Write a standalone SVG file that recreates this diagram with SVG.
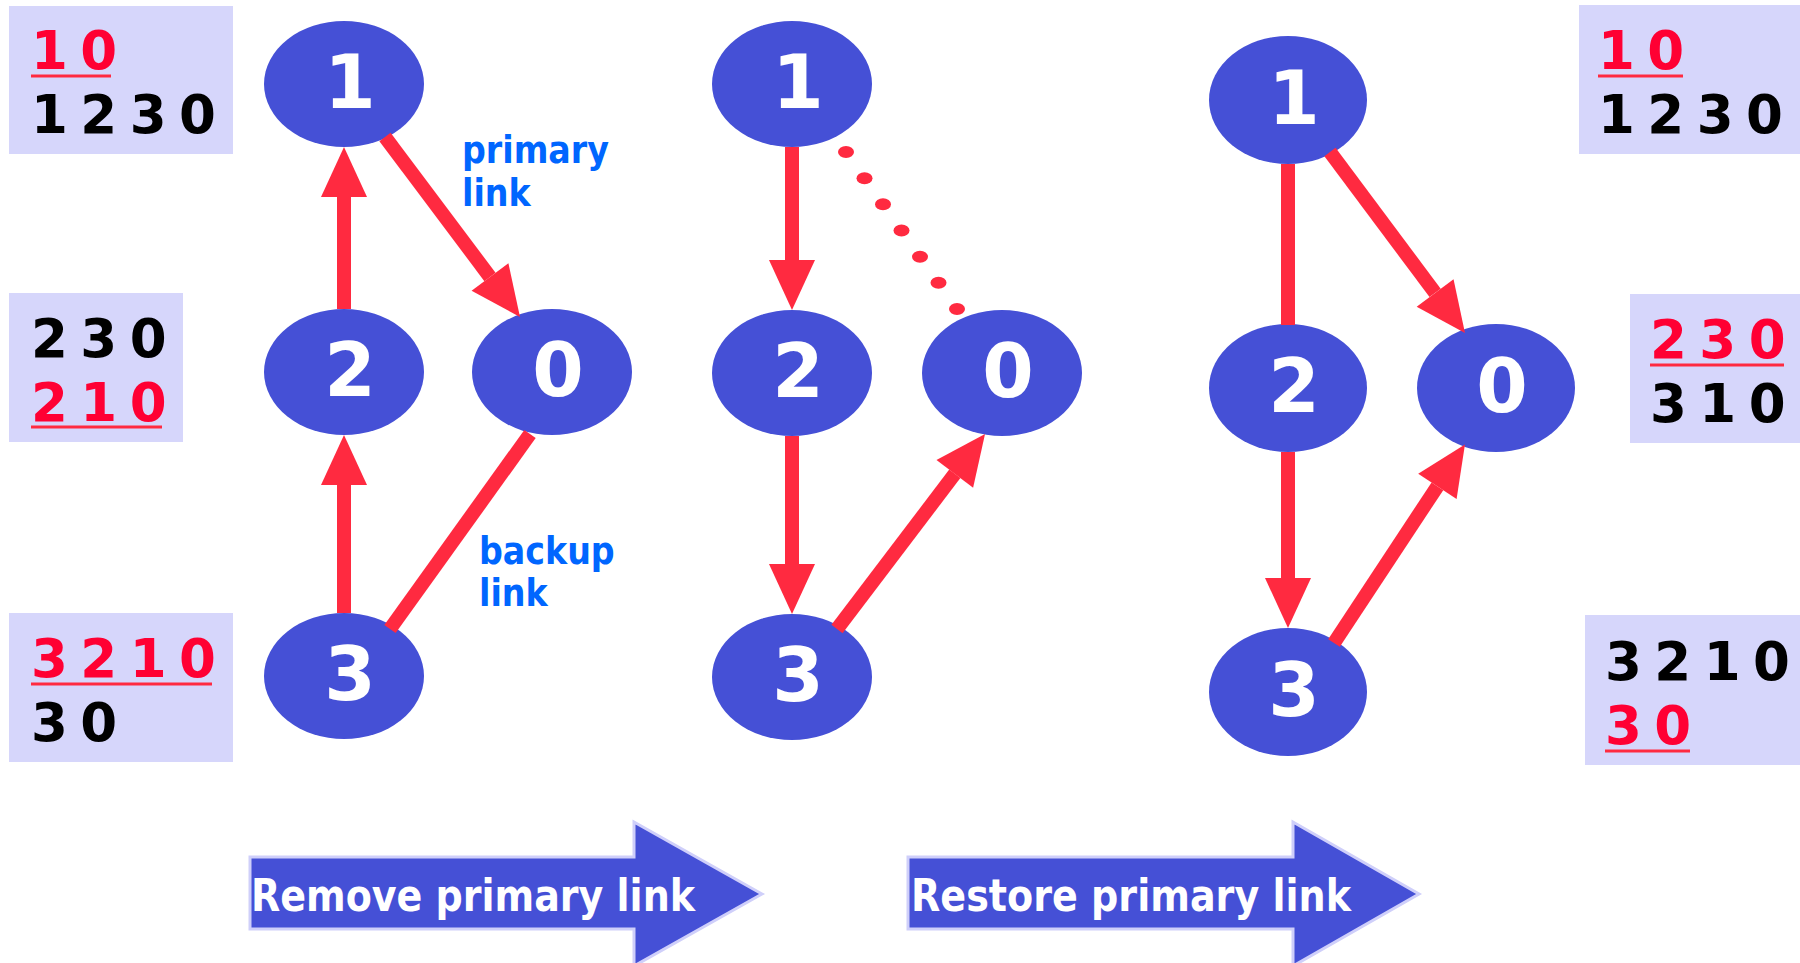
<svg xmlns="http://www.w3.org/2000/svg" width="1800" height="963" viewBox="0 0 1800 963">
<defs>
<style>
.box{fill:#d6d6fb}
.d{font-family:"DejaVu Sans",sans-serif;font-weight:bold;font-size:53px;letter-spacing:-3px}
.blk{fill:#000}
.red{fill:#ff0033}
.ul{stroke:#ff2a40;stroke-width:3}
.node ellipse{fill:#4550d6}
.node text{font-family:"DejaVu Sans",sans-serif;font-weight:bold;font-size:74px;fill:#fff;text-anchor:middle}
.lk{stroke:#ff2a40;stroke-width:14;fill:none}
.dot{fill:#ff2a40}
.lbl{font-family:"DejaVu Sans Condensed","DejaVu Sans",sans-serif;font-weight:bold;font-stretch:condensed;font-size:37px;fill:#0066ff}
.big{fill:#4550d6;stroke:#cfcffa;stroke-width:3}
.bt{font-family:"DejaVu Sans Condensed","DejaVu Sans",sans-serif;font-weight:bold;font-stretch:condensed;font-size:45px;fill:#fff}
</style>
<marker id="ah" markerUnits="userSpaceOnUse" markerWidth="50" markerHeight="46" refX="0" refY="23" orient="auto" overflow="visible">
<path d="M0,0 L50,23 L0,46 z" fill="#ff2a40"/>
</marker>
</defs>
<rect width="1800" height="963" fill="#fff"/>

<g id="tables">
<rect class="box" x="9" y="6" width="224" height="148"/>
<text class="d red" x="31" y="69">1 0</text>
<line class="ul" x1="31" y1="76" x2="111" y2="76"/>
<text class="d blk" x="31" y="133">1 2 3 0</text>

<rect class="box" x="9" y="293" width="174" height="149"/>
<text class="d blk" x="31" y="357">2 3 0</text>
<text class="d red" x="31" y="421">2 1 0</text>
<line class="ul" x1="31" y1="427" x2="162" y2="427"/>

<rect class="box" x="9" y="613" width="224" height="149"/>
<text class="d red" x="31" y="677">3 2 1 0</text>
<line class="ul" x1="31" y1="684" x2="212" y2="684"/>
<text class="d blk" x="31" y="741">3 0</text>

<rect class="box" x="1579" y="5" width="221" height="149"/>
<text class="d red" x="1598" y="69">1 0</text>
<line class="ul" x1="1598" y1="76" x2="1683" y2="76"/>
<text class="d blk" x="1598" y="133">1 2 3 0</text>

<rect class="box" x="1630" y="294" width="170" height="149"/>
<text class="d red" x="1650" y="358">2 3 0</text>
<line class="ul" x1="1650" y1="365" x2="1784" y2="365"/>
<text class="d blk" x="1650" y="422">3 1 0</text>

<rect class="box" x="1585" y="615" width="215" height="150"/>
<text class="d blk" x="1605" y="680">3 2 1 0</text>
<text class="d red" x="1605" y="744">3 0</text>
<line class="ul" x1="1605" y1="751" x2="1690" y2="751"/>
</g>

<g id="n1a" class="node"><ellipse cx="344" cy="84" rx="80" ry="63"/><text x="350" y="108">1</text></g>
<g id="n2a" class="node"><ellipse cx="344" cy="372" rx="80" ry="63"/><text x="350" y="396">2</text></g>
<g id="n0a" class="node"><ellipse cx="552" cy="372" rx="80" ry="63"/><text x="558" y="396">0</text></g>
<g id="n3a" class="node"><ellipse cx="344" cy="676" rx="80" ry="63"/><text x="350" y="700">3</text></g>

<g id="n1b" class="node"><ellipse cx="792" cy="84" rx="80" ry="63"/><text x="798" y="108">1</text></g>
<g id="n2b" class="node"><ellipse cx="792" cy="373" rx="80" ry="63"/><text x="798" y="397">2</text></g>
<g id="n0b" class="node"><ellipse cx="1002" cy="373" rx="80" ry="63"/><text x="1008" y="397">0</text></g>
<g id="n3b" class="node"><ellipse cx="792" cy="677" rx="80" ry="63"/><text x="798" y="701">3</text></g>

<g id="n1c" class="node"><ellipse cx="1288" cy="100" rx="79" ry="64"/><text x="1294" y="124">1</text></g>
<g id="n2c" class="node"><ellipse cx="1288" cy="388" rx="79" ry="64"/><text x="1294" y="412">2</text></g>
<g id="n0c" class="node"><ellipse cx="1496" cy="388" rx="79" ry="64"/><text x="1502" y="412">0</text></g>
<g id="n3c" class="node"><ellipse cx="1288" cy="692" rx="79" ry="64"/><text x="1294" y="716">3</text></g>

<g id="connectors">
<line class="lk" x1="344" y1="309" x2="344" y2="197" marker-end="url(#ah)"/>
<line class="lk" x1="344" y1="613" x2="344" y2="485" marker-end="url(#ah)"/>
<line class="lk" x1="385" y1="137" x2="490" y2="277" marker-end="url(#ah)"/>
<line class="lk" x1="530" y1="434" x2="390" y2="629"/>

<line class="lk" x1="792" y1="147" x2="792" y2="260" marker-end="url(#ah)"/>
<line class="lk" x1="792" y1="436" x2="792" y2="564" marker-end="url(#ah)"/>
<line class="lk" x1="837" y1="629" x2="954.8" y2="473.8" marker-end="url(#ah)"/>
<g id="dotted">
<ellipse class="dot" cx="846" cy="152" rx="8" ry="6"/>
<ellipse class="dot" cx="864.5" cy="178.2" rx="8" ry="6"/>
<ellipse class="dot" cx="883" cy="204.3" rx="8" ry="6"/>
<ellipse class="dot" cx="901.5" cy="230.5" rx="8" ry="6"/>
<ellipse class="dot" cx="920" cy="256.7" rx="8" ry="6"/>
<ellipse class="dot" cx="938.5" cy="282.8" rx="8" ry="6"/>
<ellipse class="dot" cx="957" cy="309" rx="8" ry="6"/>
</g>

<line class="lk" x1="1288" y1="164" x2="1288" y2="325"/>
<line class="lk" x1="1288" y1="452" x2="1288" y2="578" marker-end="url(#ah)"/>
<line class="lk" x1="1330" y1="152" x2="1435.1" y2="292.9" marker-end="url(#ah)"/>
<line class="lk" x1="1334" y1="643" x2="1437.4" y2="486.3" marker-end="url(#ah)"/>
</g>

<g id="labels">
<text class="lbl" x="462" y="163">primary</text>
<text class="lbl" x="462" y="206">link</text>
<text class="lbl" x="479" y="564">backup</text>
<text class="lbl" x="479" y="606">link</text>
</g>

<g id="step1">
<polygon class="big" points="250,857 634,857 634,822 762,894 634,966 634,929 250,929"/>
<text class="bt" x="251" y="911" textLength="444" lengthAdjust="spacingAndGlyphs">Remove primary link</text>
</g>
<g id="step2">
<polygon class="big" points="908,857 1293,857 1293,822 1419,894 1293,966 1293,929 908,929"/>
<text class="bt" x="911" y="911" textLength="440" lengthAdjust="spacingAndGlyphs">Restore primary link</text>
</g>
</svg>
